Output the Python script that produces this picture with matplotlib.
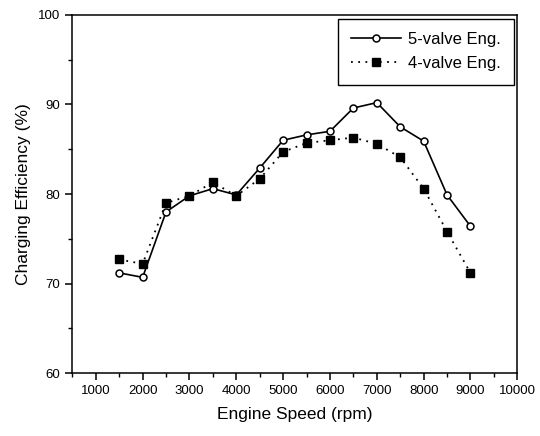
import matplotlib.pyplot as plt
from matplotlib.ticker import MultipleLocator

plt.rcParams['font.family'] = ['Liberation Sans', 'DejaVu Sans']

# engine speed (rpm)
speed = [1500, 2000, 2500, 3000, 3500, 4000, 4500, 5000, 5500,
         6000, 6500, 7000, 7500, 8000, 8500, 9000]
# charging efficiency (%)
eff_5valve = [71.2, 70.7, 78.0, 79.8, 80.6, 79.9, 82.9, 86.0, 86.6,
              87.0, 89.6, 90.2, 87.5, 85.9, 79.9, 76.4]
eff_4valve = [72.7, 72.2, 79.0, 79.8, 81.3, 79.8, 81.7, 84.7, 85.7,
              86.0, 86.3, 85.6, 84.1, 80.6, 75.8, 71.2]
xticks = [1000, 2000, 3000, 4000, 5000, 6000, 7000, 8000, 9000, 10000]
yticks = [60, 70, 80, 90, 100]

fig = plt.figure(figsize=(5.4, 4.36), dpi=100)
ax = fig.add_axes([0.134, 0.144, 0.824, 0.822])

ax.plot(speed, eff_5valve, '-', color='black', lw=1.2, marker='o',
        markersize=5, markerfacecolor='white', markeredgecolor='black',
        markeredgewidth=1.1, label='5-valve Eng.')
ax.plot(speed, eff_4valve, linestyle=(0, (1, 3)), color='black', lw=1.3,
        marker='s', markersize=6, markerfacecolor='black',
        markeredgecolor='black', label='4-valve Eng.')

ax.set_xlim(500, 10000)
ax.set_ylim(60, 100)
ax.set_xticks(xticks)
ax.set_yticks(yticks)
ax.xaxis.set_minor_locator(MultipleLocator(500))
ax.yaxis.set_minor_locator(MultipleLocator(5))
ax.tick_params(which='major', direction='out', length=5, width=1.1, labelsize=9.5)
ax.tick_params(which='minor', direction='out', length=3, width=1.0)
for s in ax.spines.values():
    s.set_linewidth(1.1)

ax.set_xlabel('Engine Speed (rpm)', fontsize=12.5, labelpad=7)
ax.set_ylabel('Charging Efficiency (%)', fontsize=12.5, labelpad=5)

leg = ax.legend(loc='upper right', bbox_to_anchor=(0.993, 0.989),
                borderaxespad=0, fancybox=False, edgecolor='black',
                framealpha=1, fontsize=12, handlelength=3.0,
                borderpad=0.8, labelspacing=0.55, handletextpad=0.4)
leg.get_frame().set_linewidth(1.0)

fig.savefig('out.png', dpi=100)
